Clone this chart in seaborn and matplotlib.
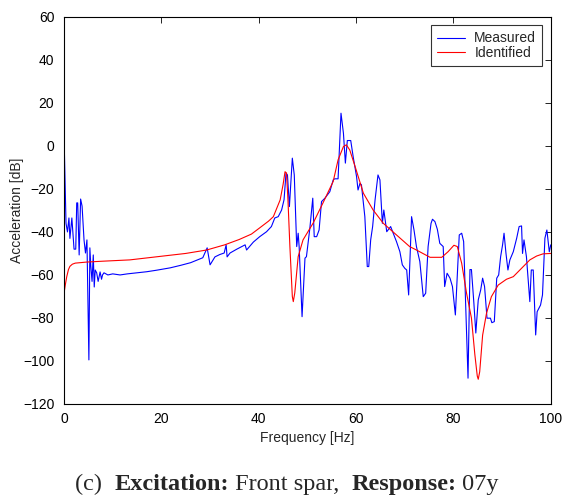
import numpy as np
import pandas as pd
import seaborn as sns
import matplotlib
matplotlib.use("Agg")
import matplotlib.pyplot as plt

# measured FRF (frequency in Hz, level in dB)
meas_f = [0.0, 0.4, 0.7, 1.0, 1.2, 1.6, 2.05, 2.4, 2.6, 2.8, 3.1, 3.4, 3.7, 4.1, 4.4,
          4.7, 4.8, 5.1, 5.3, 5.5, 5.75, 6.0, 6.2, 6.4, 6.7, 7.0, 7.4, 7.7, 7.9, 8.2,
          9, 10, 11.5, 13, 15, 17, 19, 21.8, 24, 26, 28.5, 29.4, 30.0, 31.0, 32.0,
          32.9, 33.3, 33.5, 34.1, 35.5, 37.2, 37.5, 38.9, 40.2, 41.6, 42.6, 43.3, 44.0,
          44.7, 45.2, 45.6, 45.9, 46.3, 46.9, 47.3, 47.8, 48.1, 48.3, 48.9, 49.5, 49.8,
          50.5, 51.1, 51.4, 51.9, 52.4, 52.9, 53.6, 54.6, 55.3, 55.6, 56.3, 56.9, 57.4,
          57.8, 58.2, 58.9, 59.4, 60.1, 60.4, 60.8, 61.1, 61.8, 62.3, 62.6, 63.0, 63.4,
          63.9, 64.5, 64.9, 65.4, 65.7, 66.3, 67.1, 68.3, 69.0, 69.5, 70.0, 70.4, 70.8,
          71.4, 71.9, 72.4, 73.1, 73.8, 74.3, 74.8, 75.4, 75.7, 76.2, 76.7, 77.2, 77.9,
          78.2, 78.7, 79.3, 79.8, 80.4, 81.2, 81.7, 82.1, 83.0, 83.4, 83.7, 84.2, 84.6,
          85.1, 85.6, 86.0, 86.4, 86.9, 87.6, 87.9, 88.4, 88.9, 89.3, 89.7, 90.1, 90.4,
          90.8, 91.2, 91.6, 92.3, 93.0, 93.5, 94.0, 94.2, 94.5, 95.0, 95.7, 96.0, 96.4,
          96.9, 97.2, 97.9, 98.3, 98.8, 99.2, 99.7, 100.0]
meas_db = [4, -36, -40, -33.5, -43, -33.5, -48, -48, -26.5, -26.5, -50.7, -24.7, -28, -43.7, -49.8,
           -43.7, -57.7, -99.5, -47.4, -56, -63, -50.7, -65.6, -57.7, -59, -63, -58.6, -62, -60, -59,
           -60, -59.5, -60, -59.5, -59, -58.5, -57.8, -56.7, -55.5, -54.3, -52, -47.4, -55.3, -51.6, -50.5,
           -49.8, -46, -51.6, -49.8, -48, -46, -48.4, -44.7, -42.2, -39.9, -37.5, -33.5, -32.9,
           -29.8, -25, -12.7, -13.5, -28.2, -5.7, -13.5, -46.8, -40.6, -46.8, -79.4, -52.2, -51.5,
           -38.3, -24.3, -42.2, -42.2, -39.1, -25.9, -24.3, -21.3, -15.8, -15.3, -15.3, 15.2, 5.9,
           -8, 2.5, 2.5, -5, -14.3, -20.5, -17.4, -18.1, -32.9, -56.1, -56.1, -43.7, -37.5,
           -25.1, -13.5, -15.8, -36, -29.8, -39.9, -37.5, -44.5, -49.2, -55.3, -56.9, -57.7, -69.3,
           -32.9, -39.1, -46.8, -53.8, -70.1, -68.5, -46.8, -36, -34.1, -35.2, -38.8, -45.3, -46.8,
           -65.4, -59.2, -61.5, -65.4, -78.6, -41.4, -40.6, -44.5, -108, -57.5, -57.5, -73, -87,
           -71.6, -67, -61.5, -65.4, -80.1, -80.1, -82.2, -81.7, -61.5, -60, -51.5, -46, -40.6,
           -50, -57.7, -53, -49.2, -42.9, -37.5, -37.2, -50, -43.7, -51.5, -72.4, -57.7, -57.7,
           -87.9, -77.1, -74, -69.3, -42.9, -39.1, -49.2, -46]

# identified model FRF
ident_f = [0, 0.3, 0.55, 0.9, 1.2, 1.7, 2.3, 4.7, 8, 13.5, 20, 25, 29.3, 33, 36, 38.5,
           40.2, 42, 43, 44.4, 45.0, 45.4, 45.7, 46.0, 46.4, 46.9, 47.1, 47.4, 48.1, 49.1,
           51.2, 53.2, 55.3, 56.3, 57.4, 58.0, 58.7, 59.8, 61.5, 63.5, 65.6, 68.3, 71,
           72.4, 75.2, 77.6, 78.9, 80.1, 80.8, 81.7, 82.7, 83.7, 84.4, 84.9, 85.1, 85.4,
           86.0, 86.8, 87.8, 89.2, 90.9, 92.3, 94.0, 95.7, 97.1, 98.4, 100]
ident_db = [-68.4, -64, -60.8, -57.5, -56, -55, -54.5, -54, -53.6, -53, -51.3, -50, -48.4, -46, -43.5, -41,
            -38.1, -35, -32.9, -25.1, -18, -12, -12.6, -25, -46.8, -70, -72.4, -68.4, -51.5, -43.7,
            -35.8, -26.5, -16.5, -6.5, -0.3, 0.5, -1.9, -9.6, -22, -29.8, -36, -41.4, -46.8,
            -48.4, -51.8, -51.8, -49.2, -46.2, -46.8, -54.6, -68.5, -80, -97, -107, -108.5, -105,
            -88, -77.8, -70.1, -64.7, -62, -60.8, -56.9, -53, -51.2, -50.2, -50]

measured = pd.DataFrame({"freq": meas_f, "db": meas_db})
identified = pd.DataFrame({"freq": ident_f, "db": ident_db})

sns.set_style("white")
plt.rcParams["font.family"] = ["Liberation Sans", "DejaVu Sans"]

fig = plt.figure(figsize=(5.62, 4.96), dpi=100)
ax = fig.add_axes([0.114, 0.1855, 0.866, 0.7805])

sns.lineplot(data=measured, x="freq", y="db", color="#0000ff", lw=0.8,
             label="Measured", ax=ax, sort=False)
sns.lineplot(data=identified, x="freq", y="db", color="#ff0000", lw=0.8,
             label="Identified", ax=ax, sort=False)

ax.set_xlim(0, 100)
ax.set_ylim(-120, 60)
ax.set_xticks(range(0, 101, 20))
ax.set_yticks(range(-120, 61, 20))
ax.tick_params(direction="in", top=True, right=True, length=4, width=0.6,
               labelsize=10, colors="black")
ax.tick_params(axis="x", pad=6)
ax.tick_params(axis="y", pad=7)
for s in ax.spines.values():
    s.set_color("black")
    s.set_linewidth(0.8)
ax.set_xlabel("Frequency [Hz]", fontsize=10, labelpad=3.5)
ax.set_ylabel("Acceleration [dB]", fontsize=10, labelpad=-1)

leg = ax.legend(loc="upper right", fontsize=10, frameon=True, fancybox=False,
                borderaxespad=0.6, handlelength=2.0, borderpad=0.45,
                labelspacing=0.05, handletextpad=0.65)
leg.get_frame().set_edgecolor("black")
leg.get_frame().set_linewidth(0.8)

# caption with mixed bold/regular pieces, centred under the plot
pieces = [("(c)  ", "normal"), ("Excitation:", "bold"), (" Front spar,  ", "normal"),
          ("Response:", "bold"), (" 07y", "normal")]
fig.canvas.draw()
renderer = fig.canvas.get_renderer()
texts = []
for s, w in pieces:
    t = fig.text(0, 0.012, s, fontsize=17.5, fontweight=w, family="Liberation Serif",
                 ha="left", va="baseline")
    texts.append(t)
widths = [t.get_window_extent(renderer).width / fig.bbox.width for t in texts]
x = 287 / 562 - sum(widths) / 2
for t, w in zip(texts, widths):
    t.set_x(x)
    x += w

fig.savefig("out.png", dpi=100)
